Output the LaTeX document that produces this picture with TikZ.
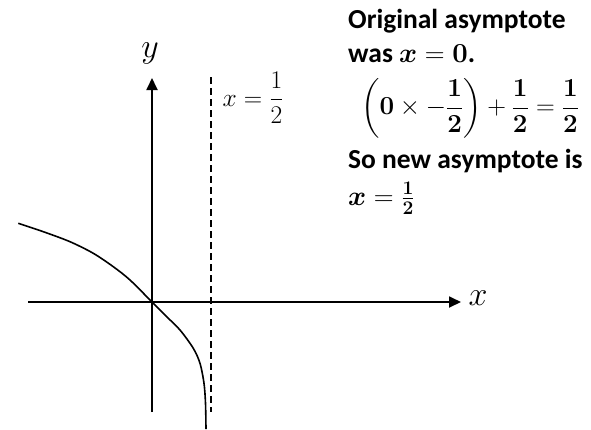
\documentclass[tikz,border=0pt]{standalone}
\usepackage{fix-cm}
\usepackage[no-math]{fontspec}
\usepackage{amsmath,bm}
\setmainfont{Carlito}
\usetikzlibrary{arrows.meta}
\begin{document}
\begin{tikzpicture}[x=1pt,y=-1pt,
  axis/.style={line width=1.8pt,-{Triangle[length=12pt,width=11pt]}},
  asym/.style={line width=1.6pt,dash pattern=on 7pt off 4pt},
  curve/.style={line width=1.6pt},
  note/.style={anchor=base west,inner sep=0pt,font=\fontsize{27.5}{30}\selectfont\bfseries},
  lab/.style={inner sep=0pt}]
\useasboundingbox (0,0) rectangle (591,429);
% axes
\coordinate (xs) at (28,302);
\coordinate (xe) at (461,302);
\coordinate (ys) at (152,412);
\coordinate (ye) at (152,78);
\coordinate (ds) at (211,77);
\coordinate (de) at (211,412);
\draw[axis] (xs) -- (xe);
\draw[axis] (ys) -- (ye);
\draw[asym] (ds) -- (de);
\node[lab,font=\fontsize{34}{36}\selectfont] (xl) at (478,298) {$x$};
\node[lab,font=\fontsize{34}{36}\selectfont] (yl) at (150,53) {$y$};
\node[lab,font=\fontsize{25.5}{28}\selectfont] (al) at (253,98) {$x=\dfrac{1}{2}$};
% curve
\draw[curve] plot[smooth,tension=0.5] coordinates {(18.3,223.3) (43.3,231.7) (70,241.7) (93.3,253.3) (113.3,266.7) (130,280) (152,302) (166.7,316.7) (180,330) (193.3,348.3) (200,363.3) (204,383.3) (205.5,403.3) (206,429)};
% notes
\node[note] (n1) at (348,28) {Original asymptote};
\node[note] (n2) at (348,62) {was $\boldsymbol{x}=\mathbf{0}$.};
\node[anchor=west,inner sep=0pt,font=\fontsize{26}{30}\selectfont] (n3) at (361,108)
  {$\left(\mathbf{0}\times-\dfrac{\mathbf{1}}{\mathbf{2}}\right)+\dfrac{\mathbf{1}}{\mathbf{2}}=\dfrac{\mathbf{1}}{\mathbf{2}}$};
\node[note] (n4) at (348,168) {So new asymptote is};
\node[note] (n5) at (348,205) {$\boldsymbol{x}=\frac{\mathbf{1}}{\mathbf{2}}$};
\end{tikzpicture}
\end{document}
